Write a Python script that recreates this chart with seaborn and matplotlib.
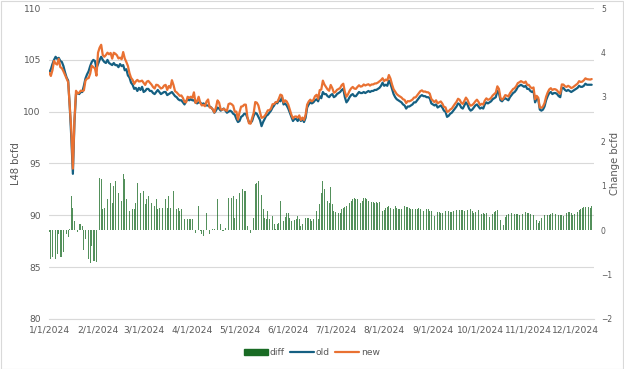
import matplotlib
matplotlib.use("Agg")
import matplotlib.pyplot as plt
import matplotlib.patches as mpatches
from matplotlib.lines import Line2D
import numpy as np
import pandas as pd
import seaborn as sns

# daily L48 production, "old" estimate (bcfd), 1/1/2024 - 12/11/2024
old_jan = [103.8, 104.1, 104.6, 105.0, 105.3, 105.1, 105.2, 104.9, 104.8, 104.4, 103.8, 103.3, 103.0, 100.5, 97.5, 94.0,
           99.0, 101.7, 101.8, 101.7, 101.9, 101.9, 102.5, 103.2, 103.6, 103.9, 104.4, 104.8, 105.0, 104.9, 104.2]
old_feb = [104.6, 105.0, 105.3, 105.0, 104.8, 104.7, 105.0, 104.7, 104.6, 104.5, 104.7, 104.5, 104.5, 104.3, 104.6,
           104.4, 104.5, 104.0, 104.1, 103.5, 103.3, 102.8, 102.6, 102.2, 102.3, 102.0, 102.3, 102.1, 102.4]
old_mar = [101.9, 102.0, 102.2, 102.2, 102.0, 102.0, 101.8, 101.7, 101.9, 102.1, 101.9, 101.7, 101.8, 101.9, 101.9,
           101.6, 101.7, 101.8, 101.9, 101.7, 101.5, 101.4, 101.2, 101.1, 101.1, 100.9, 100.7, 101.0, 101.2, 101.1, 101.2]
old_apr = [101.1, 101.1, 100.9, 100.8, 100.9, 100.9, 100.7, 100.8, 100.7, 100.6, 100.6, 100.5, 100.4, 100.2, 99.9,
           100.1, 100.4, 100.3, 100.1, 100.2, 100.3, 100.1, 99.9, 100.0, 100.1, 100.0, 99.8, 99.7, 99.3, 99.0]
old_may = [99.1, 99.5, 99.6, 99.8, 99.8, 99.4, 99.0, 98.9, 99.1, 99.6, 99.9, 99.8, 99.5, 99.2, 98.6, 99.0, 99.3, 99.6,
           99.7, 99.9, 100.1, 100.4, 100.6, 100.9, 100.8, 101.1, 101.0, 101.4, 100.7, 100.8, 100.6]
old_jun = [100.3, 99.9, 99.5, 99.1, 99.3, 99.3, 99.1, 99.4, 99.1, 99.3, 99.0, 99.4, 100.4, 100.7, 100.9, 100.8, 100.9,
           101.1, 101.2, 101.0, 101.5, 101.3, 101.9, 101.7, 101.7, 101.5, 101.4, 101.6, 101.7, 101.4]
old_jul = [101.5, 101.7, 101.8, 101.9, 102.1, 102.2, 101.4, 100.9, 101.1, 101.4, 101.6, 101.7, 101.5, 101.5, 101.7,
           101.9, 101.8, 101.8, 101.9, 101.8, 101.9, 102.0, 101.9, 102.0, 102.0, 102.1, 102.1, 102.2, 102.3, 102.5, 102.8]
old_aug = [102.5, 102.6, 102.5, 103.0, 102.7, 102.2, 101.7, 101.4, 101.2, 101.1, 101.0, 100.9, 100.7, 100.6, 100.3,
           100.5, 100.5, 100.6, 100.7, 100.9, 100.9, 101.1, 101.3, 101.5, 101.6, 101.5, 101.5, 101.4, 101.4, 101.3, 100.8]
old_sep = [100.7, 100.6, 100.7, 100.4, 100.5, 100.6, 100.4, 100.1, 100.0, 99.5, 99.6, 99.8, 99.9, 100.1, 100.3, 100.5,
           100.8, 100.7, 100.4, 100.3, 100.6, 100.9, 100.7, 100.3, 100.1, 100.2, 100.4, 100.6, 100.7, 100.5]
old_oct = [100.3, 100.4, 100.3, 100.7, 100.9, 100.8, 100.9, 101.0, 101.2, 101.3, 101.4, 102.0, 101.8, 101.1, 101.0,
           101.2, 101.3, 101.2, 101.1, 101.4, 101.6, 101.8, 101.9, 102.1, 102.4, 102.5, 102.6, 102.5, 102.4, 102.5, 102.2]
old_nov = [102.2, 102.0, 101.9, 102.0, 100.9, 101.3, 101.2, 100.2, 100.1, 100.2, 100.5, 101.1, 101.5, 101.8, 101.9,
           101.7, 101.8, 101.8, 101.7, 101.5, 101.4, 102.3, 102.3, 102.1, 102.0, 102.1, 102.0, 101.9, 102.0, 102.1]
old_dec = [102.2, 102.3, 102.5, 102.4, 102.4, 102.5, 102.7, 102.6, 102.6, 102.6, 102.6]

# revision new - old (bcfd), right axis
diff_jan = [-0.05, -0.65, -0.6, -0.1, -0.65, -0.55, -0.1, -0.6, -0.6, -0.5, -0.25, -0.1, -0.15, 0.02, 0.77, 0.5, 0.2,
            0.32, -0.05, 0.13, 0.13, 0.09, -0.44, -0.2, -0.4, -0.66, -0.74, -0.36, -0.7, -0.7, -0.72]
diff_feb = [1.1, 1.18, 1.16, 0.47, 0.5, 0.77, 0.7, 0.84, 1.07, 0.62, 0.99, 1.1, 0.95, 0.84, 0.62, 0.66, 1.26, 1.14,
            0.7, 0.92, 0.43, 0.47, 0.47, 0.48, 0.62, 1.07, 0.62, 0.84, 0.6]
diff_mar = [0.88, 0.58, 0.7, 0.77, 0.8, 0.62, 0.58, 0.54, 0.7, 0.47, 0.5, 0.54, 0.5, 0.62, 0.69, 0.5, 0.77, 0.5, 1.14,
            0.88, 0.47, 0.47, 0.5, 0.43, 0.47, 0.43, 0.24, -0.1, 0.24, 0.24, 0.24]
diff_apr = [0.24, 0.77, -0.06, 0.2, 0.54, -0.03, -0.1, -0.14, -0.17, 0.38, 0.58, -0.1, 0.0, 0.02, 0.03, 0.32, 0.69,
            0.58, 0.13, -0.02, -0.02, 0.05, 0.18, 0.73, 0.7, 0.72, 0.77, 0.28, 0.71, 0.24]
diff_may = [0.84, 0.99, 0.92, 0.88, 0.88, 0.1, -0.12, -0.06, 0.28, 0.28, 1.03, 1.07, 1.1, 0.77, 0.8, 0.47, 0.28, 0.24,
            0.43, 0.24, 0.2, 0.32, 0.13, 0.02, 0.13, 0.15, 0.65, 0.17, 0.2, 0.3, 0.39]
diff_jun = [0.39, 0.28, 0.2, 0.24, 0.22, 0.24, 0.32, 0.24, 0.1, 0.13, 0.2, 0.28, 0.28, 0.28, 0.26, 0.2, 0.24, 0.39,
            0.43, 0.24, 0.58, 0.84, 1.1, 0.92, 0.69, 0.65, 0.62, 0.98, 0.58, 0.43]
diff_jul = [0.4, 0.41, 0.39, 0.39, 0.47, 0.5, 0.52, 0.54, 0.58, 0.62, 0.65, 0.69, 0.73, 0.7, 0.69, 0.65, 0.62, 0.66,
            0.73, 0.73, 0.7, 0.65, 0.62, 0.63, 0.63, 0.62, 0.63, 0.61, 0.63, 0.55, 0.43]
diff_aug = [0.45, 0.5, 0.52, 0.54, 0.5, 0.43, 0.47, 0.54, 0.5, 0.47, 0.47, 0.47, 0.5, 0.54, 0.53, 0.52, 0.5, 0.47,
            0.47, 0.47, 0.48, 0.48, 0.49, 0.48, 0.46, 0.43, 0.45, 0.48, 0.47, 0.44, 0.43]
diff_sep = [0.38, 0.32, 0.4, 0.41, 0.4, 0.39, 0.38, 0.36, 0.42, 0.48, 0.44, 0.41, 0.4, 0.43, 0.45, 0.45, 0.45, 0.45,
            0.46, 0.45, 0.44, 0.46, 0.45, 0.47, 0.48, 0.44, 0.39, 0.4, 0.46, 0.45]
diff_oct = [0.34, 0.36, 0.38, 0.37, 0.39, 0.35, 0.3, 0.33, 0.36, 0.4, 0.44, 0.45, 0.4, 0.23, 0.15, 0.12, 0.3, 0.35,
            0.36, 0.38, 0.38, 0.39, 0.37, 0.37, 0.36, 0.34, 0.35, 0.36, 0.38, 0.41, 0.39]
diff_nov = [0.39, 0.37, 0.36, 0.34, 0.3, 0.23, 0.15, 0.2, 0.27, 0.3, 0.33, 0.34, 0.35, 0.35, 0.37, 0.39, 0.38, 0.36,
            0.35, 0.35, 0.34, 0.33, 0.32, 0.36, 0.39, 0.4, 0.41, 0.38, 0.35, 0.37]
diff_dec = [0.38, 0.41, 0.45, 0.47, 0.5, 0.53, 0.52, 0.54, 0.52, 0.5, 0.55]

month_ticks = ["1/1/2024", "2/1/2024", "3/1/2024", "4/1/2024", "5/1/2024", "6/1/2024",
               "7/1/2024", "8/1/2024", "9/1/2024", "10/1/2024", "11/1/2024", "12/1/2024"]

old = np.array(old_jan + old_feb + old_mar + old_apr + old_may + old_jun + old_jul + old_aug
               + old_sep + old_oct + old_nov + old_dec)
diff = np.array(diff_jan + diff_feb + diff_mar + diff_apr + diff_may + diff_jun + diff_jul + diff_aug
                + diff_sep + diff_oct + diff_nov + diff_dec)
dates = pd.date_range("2024-01-01", periods=len(old), freq="D")
df = pd.DataFrame({"date": dates, "old": old, "new": np.round(old + diff, 2), "diff": diff})

BLUE = "#156082"
ORANGE = "#E97132"
GREEN = "#196B24"
GREY = "#595959"

sns.set_style("white")
plt.rcParams["font.family"] = ["DejaVu Sans"]

fig = plt.figure(figsize=(6.24, 3.69), dpi=100)
ax = fig.add_axes([0.079, 0.136, 0.873, 0.842])
ax2 = ax.twinx()

# lines on the left axis
sns.lineplot(data=df, x="date", y="old", ax=ax, color=BLUE, linewidth=1.6, zorder=3)
sns.lineplot(data=df, x="date", y="new", ax=ax, color=ORANGE, linewidth=1.6, zorder=4)

# bars on the right axis
ax2.bar(df["date"], df["diff"], width=0.5, color=GREEN, alpha=0.75, linewidth=0)

ax.set_ylim(80, 110)
ax.set_yticks(range(80, 111, 5))
ax2.set_ylim(-2, 5)
ax2.set_yticks(range(-2, 6))

xmin = dates[0]
ax.set_xlim(xmin, xmin + pd.Timedelta(days=346.5))
ticks = pd.date_range("2024-01-01", "2024-12-01", freq="MS")
ax.set_xticks(ticks)
ax.set_xticklabels(month_ticks)

ax.grid(axis="y", color="#d9d9d9", linewidth=0.8)
ax.set_axisbelow(True)
for a in (ax, ax2):
    for s in a.spines.values():
        s.set_visible(False)
ax.spines["bottom"].set_visible(True)
ax.spines["bottom"].set_color("#d9d9d9")
ax.spines["bottom"].set_linewidth(0.8)

ax.tick_params(axis="x", colors="#d9d9d9", labelcolor=GREY, labelsize=6.6, length=3, width=0.8, pad=2)
ax.tick_params(axis="y", labelcolor=GREY, labelsize=6.6, length=0, pad=6)
ax2.tick_params(axis="y", labelcolor=GREY, labelsize=5.5, length=0, pad=5)

ax.set_xlabel("")
ax.set_ylabel("")
ax2.set_ylabel("")
fig.text(0.026, 0.557, "L48 bcfd", rotation=90, ha="center", va="center", color=GREY, fontsize=7.2)
fig.text(0.985, 0.557, "Change bcfd", rotation=90, ha="center", va="center", color=GREY, fontsize=7.2)

handles = [mpatches.Patch(color=GREEN, label="diff"),
           Line2D([0], [0], color=BLUE, linewidth=1.6, label="old"),
           Line2D([0], [0], color=ORANGE, linewidth=1.6, label="new")]
fig.legend(handles=handles, loc="lower center", bbox_to_anchor=(0.5, 0.01), ncol=3, frameon=False,
           fontsize=6.6, handlelength=2.6, handleheight=0.6, handletextpad=0.2, columnspacing=0.6,
           labelcolor=GREY)

# chart-area border
fig.patches.append(mpatches.Rectangle((0.001, 0.001), 0.998, 0.997, transform=fig.transFigure,
                                      fill=False, edgecolor="#d9d9d9", linewidth=0.8))

fig.savefig("out.png", dpi=100)
